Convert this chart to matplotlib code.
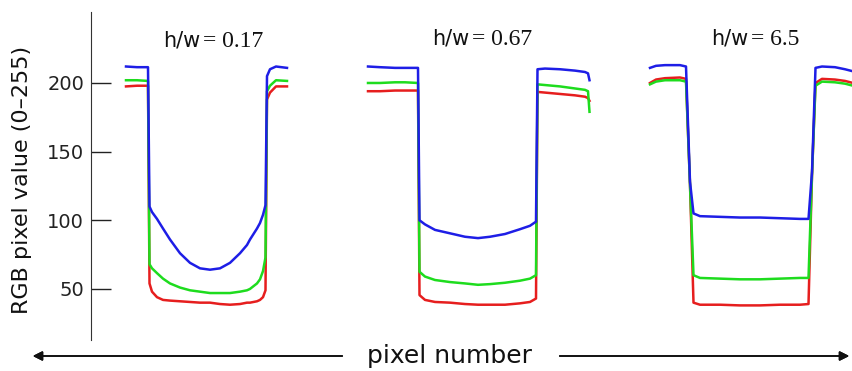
import matplotlib
matplotlib.use('Agg')

import matplotlib.pyplot as plt

# pixel-number positions and R/G/B values
x1 = [126, 137, 148, 149.5, 152, 157, 163, 170, 180, 190, 200, 210, 220, 230, 240, 247,
      250, 257, 260, 263, 265.5, 267, 270, 276, 287]
b1 = [212, 211.5, 211.5, 110, 106, 101, 94, 86, 76, 69, 65, 64, 65, 69, 76, 82,
      86, 94, 98, 104, 111, 205, 210, 212, 211]
g1 = [202, 202, 201.5, 68, 65, 61.5, 57.5, 54, 51, 49, 48, 47, 47, 47, 48, 49,
      50, 54, 57, 63, 73, 194, 198, 202, 201.5]
r1 = [197.5, 198, 198, 54, 48, 44, 42, 41.5, 41, 40.5, 40, 40, 39, 38.5, 39, 40,
      40, 41, 42, 44, 49, 188, 193, 197.5, 197.5]

x2 = [368, 380, 395, 405, 418, 419.5, 425, 435, 450, 465, 478, 490, 505, 520, 530, 536,
      537.5, 545, 560, 575, 585, 588, 589.5]
b2 = [212, 211.5, 211, 211, 211, 100, 97, 93, 90.5, 88, 87, 88, 90, 93.5, 96, 99,
      210, 210.5, 210, 209, 208, 207, 202]
g2 = [200, 200, 200.5, 200.5, 200, 62.5, 59, 56.5, 55, 54, 53, 53.5, 54.5, 56, 57.5, 60,
      199, 198.5, 197.5, 196, 195, 194, 179]
r2 = [194, 194, 194.5, 194.5, 194.5, 45.5, 42, 40.5, 40, 39, 38.5, 38.5, 38.5, 39.5, 40.5, 43,
      193.5, 193, 192, 191, 190, 189, 187]

x3 = [650, 656, 665, 680, 686, 690, 693.5, 700, 720, 740, 760, 780, 800, 808.5,
      812, 815.5, 822, 835, 845, 853]
b3 = [211, 212.5, 213, 213, 212, 128, 105, 103, 102.5, 102, 102, 101.5, 101, 101,
      135, 211, 212, 211.5, 210, 208.5]
g3 = [199, 201, 202, 202, 201, 126, 60, 58, 57.5, 57, 57, 57.5, 58, 58,
      133, 198, 201, 200.5, 199.5, 198]
r3 = [200, 202.5, 203.5, 204, 203, 126, 40, 38.5, 38.5, 38, 38, 38.5, 38.5, 39,
      133, 200, 203, 202.5, 201.5, 200]

ratios = ['0.17', '0.67', '6.5']
yticks = [50, 100, 150, 200]

RED, GREEN, BLUE = '#e61e1e', '#1edc1e', '#1e1ee6'

W, H = 853, 371
fig = plt.figure(figsize=(W / 100, H / 100), dpi=100)
ax = fig.add_axes([91 / W, 31 / H, 762 / W, 328 / H])

for xs, r, g, b in [(x1, r1, g1, b1), (x2, r2, g2, b2), (x3, r3, g3, b3)]:
    ax.plot(xs, r, color=RED, lw=1.8, solid_joinstyle='round')
    ax.plot(xs, g, color=GREEN, lw=1.8, solid_joinstyle='round')
    ax.plot(xs, b, color=BLUE, lw=1.8, solid_joinstyle='round')

ax.set_xlim(91, 853)
ax.set_ylim(12.8, 251.7)
ax.set_xticks([])
ax.set_yticks(yticks)
ax.tick_params(axis='y', direction='in', length=14.4, width=1, pad=5,
               labelsize=14, colors='#222222')
for s in ['top', 'right', 'bottom']:
    ax.spines[s].set_visible(False)
ax.spines['left'].set_color('#333333')
ax.patch.set_alpha(0)

fig.text(22 / W, 1 - 180 / H, 'RGB pixel value (0\u2013255)', rotation=90,
         ha='center', va='center', fontsize=16, color='#111111')

# panel titles: sans "h/w" followed by serif value
title_pos = [(200, 47), (469, 45), (748, 45)]
for (tx, ty), val in zip(title_pos, ratios):
    fig.text(tx / W, 1 - ty / H, 'h/w', ha='right', va='baseline',
             fontsize=15, color='#111111')
    fig.text((tx + 3) / W, 1 - ty / H, '= ' + val, ha='left', va='baseline',
             fontsize=17, family='Liberation Serif', color='#111111')

# x label with arrows either side
fig.text(450 / W, 1 - 363 / H, 'pixel number', ha='center', va='baseline',
         fontsize=18, color='#111111')
arrow = dict(arrowstyle='-|>', color='#111111', lw=1.2, mutation_scale=14)
fig.add_artist(plt.annotate('', xy=(30 / W, 1 - 356 / H), xytext=(345 / W, 1 - 356 / H),
                            xycoords='figure fraction', arrowprops=arrow))
fig.add_artist(plt.annotate('', xy=(852 / W, 1 - 356 / H), xytext=(557 / W, 1 - 356 / H),
                            xycoords='figure fraction', arrowprops=arrow))

fig.savefig('out.png', dpi=100)
